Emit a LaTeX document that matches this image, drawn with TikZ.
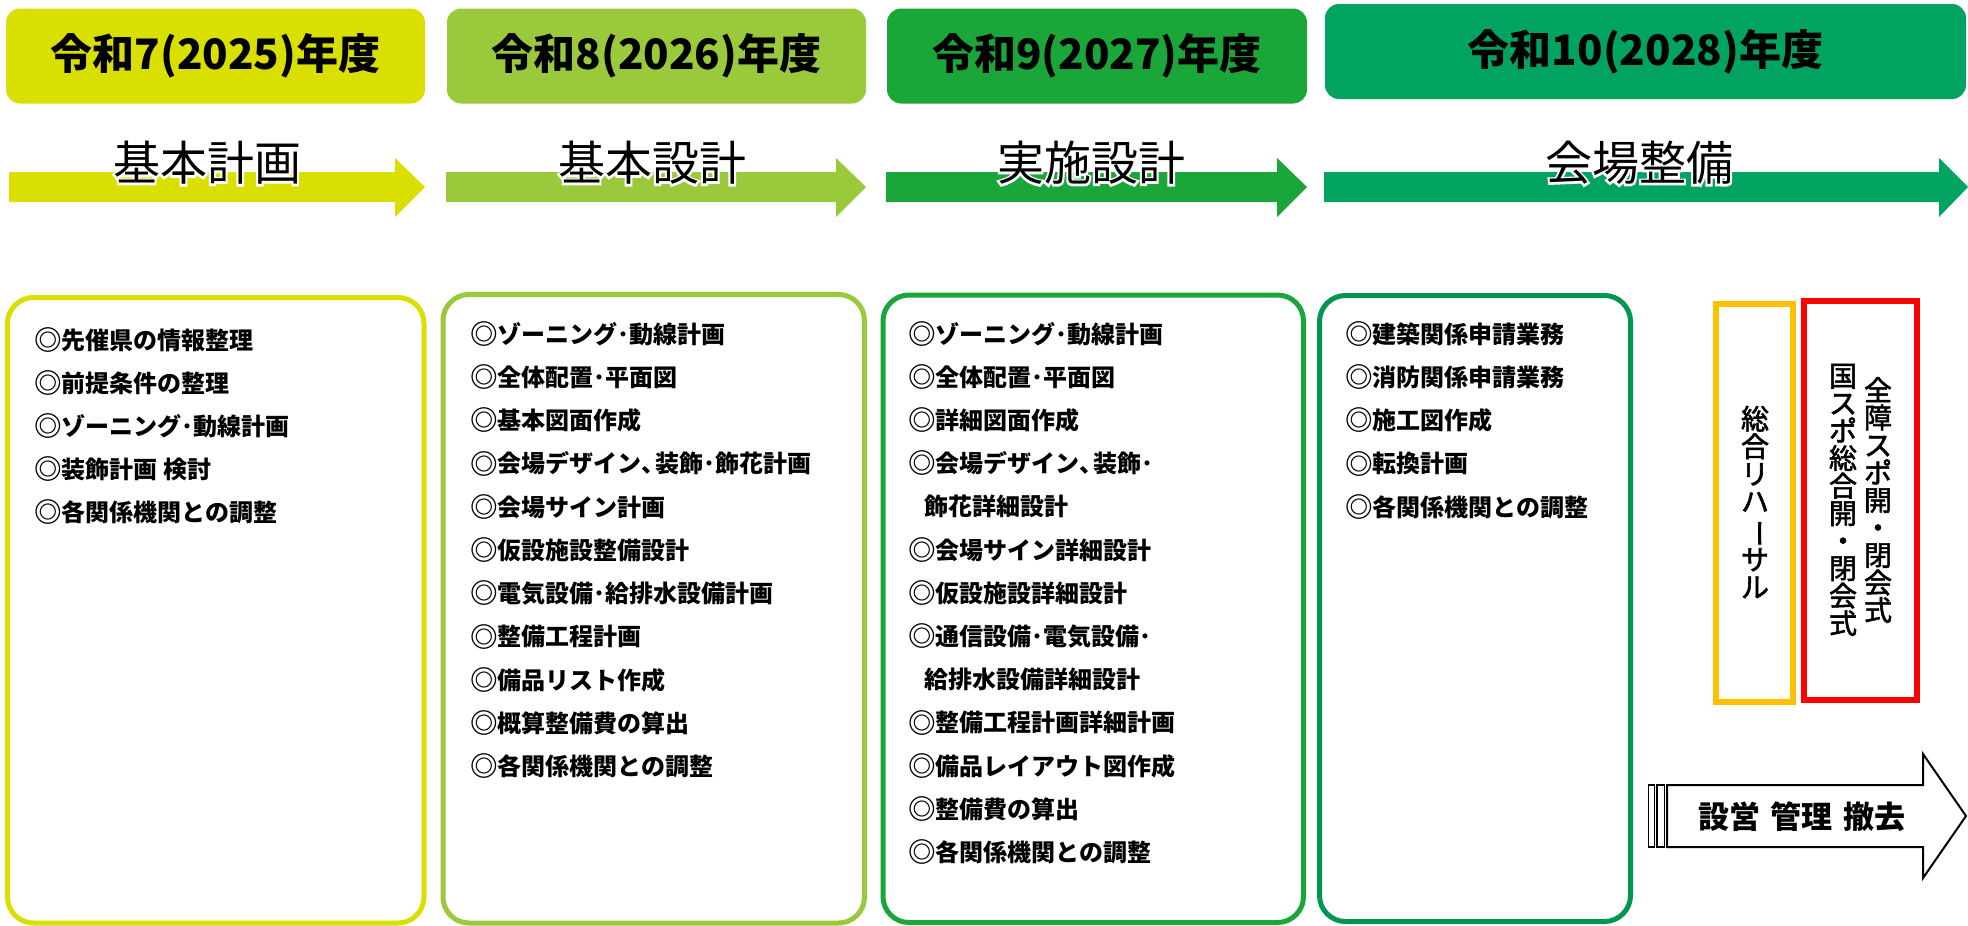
\documentclass[tikz,border=0pt]{standalone}
\usepackage{fontspec}
\usepackage{graphicx}
\setmainfont{Noto Sans CJK JP}
\newfontfamily\jpfb[FakeBold=2]{Noto Sans CJK JP}
\definecolor{cA}{RGB}{217,224,0}
\definecolor{cB}{RGB}{154,201,60}
\definecolor{cC}{RGB}{27,166,58}
\definecolor{cD}{RGB}{0,164,96}
\definecolor{cDb}{RGB}{0,150,82}
\definecolor{cOr}{RGB}{255,192,0}
\definecolor{cRd}{RGB}{255,0,0}
\newcommand\vbar{\rotatebox[origin=c]{-90}{ー}}
\newcommand\tc{\makebox[0.55em][l]{、}}
\newcommand\mk{\raisebox{-1.3pt}{\scalebox{1.15}{◎}}}
\tikzset{
  hdr/.style={rounded corners=14pt, inner sep=0pt, font=\bfseries\fontsize{42}{42}\selectfont, text=black},
  lbl/.style={inner sep=0pt, font=\fontsize{47}{47}\selectfont},
  panel/.style={rounded corners=26pt, line width=5pt, fill=white, draw, inner sep=0pt},
  item/.style={anchor=west, inner sep=0pt, font=\bfseries\fontsize{24}{24}\selectfont, text height=21pt, text depth=3pt},
  vtxt/.style={inner sep=0pt, align=center, font=\jpfb\fontsize{28}{27.5}\selectfont},
  tagbox/.style={draw, line width=6pt, inner sep=0pt},
}
% label with a white halo: a stroked white copy under the black text
\newcommand\olabel[3]{%
  \node[lbl,text=white] (#1-halo) at (#2) {\special{pdf:literal direct q 1 Tr 4 w 1 G 1 g}#3\special{pdf:literal direct Q}};
  \node[lbl] (#1) at (#2) {#3};}
\begin{document}
\begin{tikzpicture}[x=1pt,y=-1pt]
\useasboundingbox[fill=white] (0,0) rectangle (1968,926);

% year headers
\node (h1) [hdr, fill=cA, minimum width=419pt, minimum height=95pt] at (215.5,56) {令和7(2025)年度};
\node (h2) [hdr, fill=cB, minimum width=419pt, minimum height=95pt] at (656.5,56) {令和8(2026)年度};
\node (h3) [hdr, fill=cC, minimum width=420pt, minimum height=95pt] at (1097,56) {令和9(2027)年度};
\node (h4) [hdr, fill=cD, minimum width=641pt, minimum height=95pt] at (1645.5,51.5) {令和10(2028)年度};

% phase arrows
\fill[cA] (9,172) -- (395,172) -- (395,158) -- (425,187) -- (395,217) -- (395,202) -- (9,202) -- cycle;
\fill[cB] (446,172) -- (836,172) -- (836,158) -- (866,187) -- (836,217) -- (836,202) -- (446,202) -- cycle;
\fill[cC] (886,172) -- (1277,172) -- (1277,158) -- (1307,187) -- (1277,217) -- (1277,202) -- (886,202) -- cycle;
\fill[cD] (1324,172) -- (1939,172) -- (1939,158) -- (1968,187) -- (1939,217) -- (1939,202) -- (1324,202) -- cycle;

\coordinate (p1) at (207,163);
\coordinate (p2) at (652,163);
\coordinate (p3) at (1091,163);
\coordinate (p4) at (1639,163);
\olabel{l1}{p1}{基本計画}
\olabel{l2}{p2}{基本設計}
\olabel{l3}{p3}{実施設計}
\olabel{l4}{p4}{会場整備}

% panels
\node (b1) [panel, draw=cA, minimum width=416.5pt, minimum height=625.5pt] at (215.75,610.25) {};
\node (b2) [panel, draw=cB, minimum width=421.5pt, minimum height=628.5pt] at (653.75,608.75) {};
\node (b3) [panel, draw=cC, minimum width=420.5pt, minimum height=627.5pt] at (1093.25,608.75) {};
\node (b4) [panel, draw=cDb, minimum width=311pt, minimum height=626pt] at (1475,608.5) {};

\foreach \t [count=\i] in {\mk 先催県の情報整理,\mk 前提条件の整理,\mk ゾーニング･動線計画,\mk 装飾計画 検討,\mk 各関係機関との調整}
  \node (t1-\i) [item] at (34,340+43.1*\i-43.1) {\t};

\foreach \t [count=\i] in {\mk ゾーニング･動線計画,\mk 全体配置･平面図,\mk 基本図面作成,\mk 会場デザイン\tc 装飾･飾花計画,\mk 会場サイン計画,\mk 仮設施設整備設計,\mk 電気設備･給排水設備計画,\mk 整備工程計画,\mk 備品リスト作成,\mk 概算整備費の算出,\mk 各関係機関との調整}
  \node (t2-\i) [item] at (470,334+43.25*\i-43.25) {\t};

\foreach \t/\xx [count=\i] in {\mk ゾーニング･動線計画/908,\mk 全体配置･平面図/908,\mk 詳細図面作成/908,\mk 会場デザイン\tc 装飾･/908,飾花詳細設計/924,\mk 会場サイン詳細設計/908,\mk 仮設施設詳細設計/908,\mk 通信設備･電気設備･/908,給排水設備詳細設計/924,\mk 整備工程計画詳細計画/908,\mk 備品レイアウト図作成/908,\mk 整備費の算出/908,\mk 各関係機関との調整/908}
  \node (t3-\i) [item] at (\xx,334+43.2*\i-43.2) {\t};

\foreach \t [count=\i] in {\mk 建築関係申請業務,\mk 消防関係申請業務,\mk 施工図作成,\mk 転換計画,\mk 各関係機関との調整}
  \node (t4-\i) [item] at (1345,334+43.3*\i-43.3) {\t};

% event boxes
\node (reh) [tagbox, draw=cOr, minimum width=77pt, minimum height=398pt] at (1754.5,503) {};
\node (cer) [tagbox, draw=cRd, minimum width=113pt, minimum height=399pt] at (1860.5,500.5) {};
\node (reht) [vtxt] at (1755,502) {総\\合\\リ\\ハ\\\vbar\\サ\\ル};
\node (cer1) [vtxt] at (1878,500) {全\\障\\ス\\ポ\\開\\・\\閉\\会\\式};
\node (cer2) [vtxt] at (1843,500) {国\\ス\\ポ\\総\\合\\開\\・\\閉\\会\\式};

% operation arrow
\draw[line width=1.5pt] (1648.3,785) rectangle (1654.3,847);
\draw[line width=1.5pt] (1657,785) rectangle (1664.3,847);
\draw[line width=2pt, fill=white] (1667,785) -- (1923,785) -- (1923,754) -- (1966,816) -- (1923,878) -- (1923,847) -- (1667,847) -- cycle;
\node (ops) [inner sep=0pt, font=\bfseries\fontsize{31}{31}\selectfont] at (1802,817) {設営\hspace{11pt}管理\hspace{11pt}撤去};
\end{tikzpicture}
\end{document}
